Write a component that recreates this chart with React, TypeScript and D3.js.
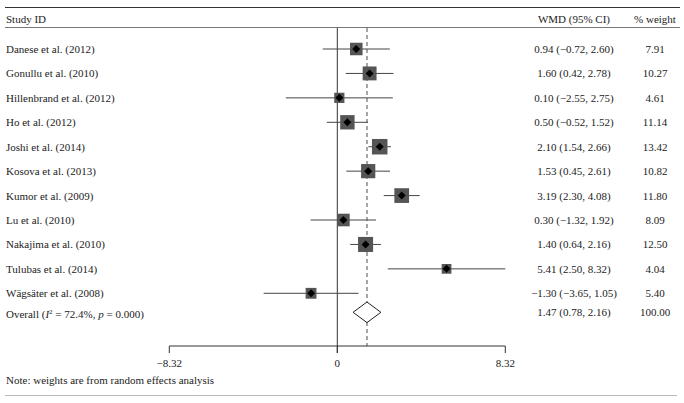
import React from 'react';
import * as d3 from 'd3';

// Study rows
const studies = [
  'Danese et al. (2012)',
  'Gonullu et al. (2010)',
  'Hillenbrand et al. (2012)',
  'Ho et al. (2012)',
  'Joshi et al. (2014)',
  'Kosova et al. (2013)',
  'Kumor et al. (2009)',
  'Lu et al. (2010)',
  'Nakajima et al. (2010)',
  'Tulubas et al. (2014)',
  'Wägsäter et al. (2008)',
];
const wmd = [0.94, 1.6, 0.1, 0.5, 2.1, 1.53, 3.19, 0.3, 1.4, 5.41, -1.3];
const lower = [-0.72, 0.42, -2.55, -0.52, 1.54, 0.45, 2.3, -1.32, 0.64, 2.5, -3.65];
const upper = [2.6, 2.78, 2.75, 1.52, 2.66, 2.61, 4.08, 1.92, 2.16, 8.32, 1.05];
const weights = [7.91, 10.27, 4.61, 11.14, 13.42, 10.82, 11.8, 8.09, 12.5, 4.04, 5.4];

const overallEst = 1.47;
const overallLo = 0.78;
const overallHi = 2.16;
const overallWeight = 100;

const axisTicks = [-8.32, 0, 8.32];

const W = 684;
const H = 403;
const serif = '"Liberation Serif", "Times New Roman", serif';

export default function App() {
  const x = d3.scaleLinear().domain([-8.32, 8.32]).range([169.3, 505.3]);
  const y = d3.scalePoint<string>().domain(studies).range([49, 293.3]);
  const overallY = 312.3;
  const axisY = 346;
  const box = d3.scaleSqrt().domain([0, 13.42]).range([0, 12.8]);

  const f2 = d3.format('.2f');
  const ciText = (e: number, l: number, u: number) => `${f2(e)} (${f2(l)}, ${f2(u)})`;

  const wmdX = 574;
  const wX = 655;
  const fs = 11;

  const diamond = [
    [x(overallLo), overallY],
    [x(overallEst), overallY - 10.3],
    [x(overallHi), overallY],
    [x(overallEst), overallY + 10.3],
  ];

  return (
    <svg
      width={W}
      height={H}
      style={{ position: 'absolute', left: 0, top: 0, background: '#fff' }}
      fontFamily={serif}
      fontSize={fs}
    >
      {/* frame lines */}
      <line x1={5} x2={680} y1={7.5} y2={7.5} stroke="#333" strokeWidth={1} />
      <line x1={5} x2={680} y1={27.5} y2={27.5} stroke="#777" strokeWidth={1} />
      <line x1={5} x2={677} y1={395.5} y2={395.5} stroke="#bbb" strokeWidth={1} />

      {/* header */}
      <text x={6} y={23} fill="#222">Study ID</text>
      <text x={wmdX} y={23} textAnchor="middle" fill="#222">WMD (95% CI)</text>
      <text x={wX} y={23} textAnchor="middle" fill="#222">% weight</text>

      {/* no-effect line and pooled estimate line */}
      <line x1={x(0)} x2={x(0)} y1={28} y2={axisY + 7} stroke="#333" strokeWidth={1} />
      <line
        x1={x(overallEst)}
        x2={x(overallEst)}
        y1={28}
        y2={axisY}
        stroke="#888"
        strokeWidth={1.5}
        strokeDasharray="4,3"
      />

      {/* study rows */}
      {studies.map((s, i) => {
        const cy = y(s) as number;
        const side = box(weights[i]) + 2.7;
        const cx = x(wmd[i]);
        return (
          <g key={s}>
            <text x={6} y={cy + 4} fill="#222">{s}</text>
            <line x1={x(lower[i])} x2={x(upper[i])} y1={cy} y2={cy} stroke="#444" strokeWidth={1} />
            <rect x={cx - side / 2} y={cy - side / 2} width={side} height={side} fill="#555" />
            <path
              d={`M${cx - 4},${cy}L${cx},${cy - 4}L${cx + 4},${cy}L${cx},${cy + 4}Z`}
              fill="#000"
            />
            <text x={wmdX} y={cy + 4} textAnchor="middle" fill="#222">
              {ciText(wmd[i], lower[i], upper[i])}
            </text>
            <text x={wX} y={cy + 4} textAnchor="middle" fill="#222">{f2(weights[i])}</text>
          </g>
        );
      })}

      {/* overall */}
      <text x={6} y={overallY + 6} fill="#222">
        Overall (<tspan fontStyle="italic">I</tspan>
        <tspan dy={-4} fontSize={7}>2</tspan>
        <tspan dy={4}> = 72.4%, </tspan>
        <tspan fontStyle="italic">p</tspan> = 0.000)
      </text>
      <path d={`M${diamond.map((p) => p.join(',')).join('L')}Z`} fill="#fff" stroke="#222" strokeWidth={1} />
      <text x={wmdX} y={overallY + 4} textAnchor="middle" fill="#222">
        {ciText(overallEst, overallLo, overallHi)}
      </text>
      <text x={wX} y={overallY + 4} textAnchor="middle" fill="#222">{f2(overallWeight)}</text>

      {/* x axis */}
      <line x1={x(-8.32)} x2={x(8.32)} y1={axisY} y2={axisY} stroke="#333" strokeWidth={1} />
      {axisTicks.map((t) => (
        <g key={t}>
          <line x1={x(t)} x2={x(t)} y1={axisY} y2={axisY + 7} stroke="#333" strokeWidth={1} />
          <text x={x(t)} y={axisY + 21} textAnchor="middle" fill="#222">
            {t === 0 ? '0' : f2(t)}
          </text>
        </g>
      ))}

      <text x={6} y={384} fill="#222">Note: weights are from random effects analysis</text>
    </svg>
  );
}
